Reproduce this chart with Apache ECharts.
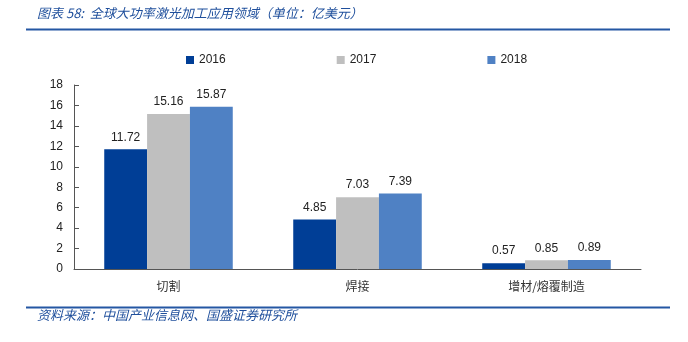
<!DOCTYPE html>
<html>
<head>
<meta charset="utf-8">
<style>
  html, body { margin: 0; padding: 0; background: #ffffff; }
  #chart { width: 688px; height: 342px; }
</style>
<script src="https://cdn.jsdelivr.net/npm/echarts@6/dist/echarts.min.js"></script>
</head>
<body>
<div id="chart"></div>
<script>
// Application areas of high-power laser processing (unit: 100M USD)
const categories = ['切割', '焊接', '增材/熔覆制造'];
const years = ['2016', '2017', '2018'];
const values2016 = [11.72, 4.85, 0.57];
const values2017 = [15.16, 7.03, 0.85];
const values2018 = [15.87, 7.39, 0.89];
const yTicks = [0, 2, 4, 6, 8, 10, 12, 14, 16, 18];

const colors = ['#003e96', '#bfbfbf', '#4f81c4'];
const seriesValues = [values2016, values2017, values2018];

const titleText = '图表 58:  全球大功率激光加工应用领域（单位：亿美元）';
const sourceText = '资料来源：中国产业信息网、国盛证券研究所';

const chart = echarts.init(document.getElementById('chart'), null, { renderer: 'canvas' });

const labelFont = '"Liberation Sans", Arial, sans-serif';
const cjkFont = '"Noto Sans CJK SC", sans-serif';

chart.setOption({
  animation: false,
  color: colors,
  grid: { left: 74, right: 47, top: 85, bottom: 73, containLabel: false },
  legend: {
    top: 49,
    left: 181,
    itemWidth: 8,
    itemHeight: 8,
    itemGap: 111,
    icon: 'rect',
    textStyle: { fontFamily: labelFont, fontSize: 12, color: '#222' },
    data: years
  },
  xAxis: {
    type: 'category',
    data: categories,
    axisLine: { lineStyle: { color: '#555', width: 1 } },
    axisTick: { inside: true, length: 5, lineStyle: { color: '#555' } },
    axisLabel: { fontFamily: cjkFont, fontSize: 12, color: '#333', margin: 11 }
  },
  yAxis: {
    type: 'value',
    min: yTicks[0],
    max: yTicks[yTicks.length - 1],
    interval: yTicks[1] - yTicks[0],
    splitLine: { show: false },
    axisLine: { show: true, lineStyle: { color: '#555', width: 1 } },
    axisTick: { show: true, inside: true, length: 5, lineStyle: { color: '#555' } },
    axisLabel: { fontFamily: labelFont, fontSize: 12, color: '#222', margin: 11 }
  },
  series: years.map((y, i) => ({
    name: y,
    type: 'bar',
    data: seriesValues[i],
    barGap: '0%',
    barCategoryGap: '32%',
    itemStyle: { color: colors[i] },
    label: {
      show: true,
      position: 'top',
      distance: 6,
      fontFamily: labelFont,
      fontSize: 12,
      color: '#222',
      formatter: p => p.value.toFixed(2)
    }
  })),
  graphic: [
    {
      type: 'text',
      left: 37,
      top: 7,
      style: {
        text: titleText,
        font: 'italic 13px "Noto Sans CJK SC", sans-serif',
        fill: '#1f4f9c'
      }
    },
    {
      type: 'line',
      shape: { x1: 26, y1: 29.5, x2: 670, y2: 29.5 },
      style: { stroke: '#2457a3', lineWidth: 2 }
    },
    {
      type: 'line',
      shape: { x1: 26, y1: 307.5, x2: 670, y2: 307.5 },
      style: { stroke: '#2457a3', lineWidth: 2 }
    },
    {
      type: 'text',
      left: 37,
      top: 309,
      style: {
        text: sourceText,
        font: 'italic 13px "Noto Sans CJK SC", sans-serif',
        fill: '#1f4f9c'
      }
    }
  ]
});
</script>
</body>
</html>
